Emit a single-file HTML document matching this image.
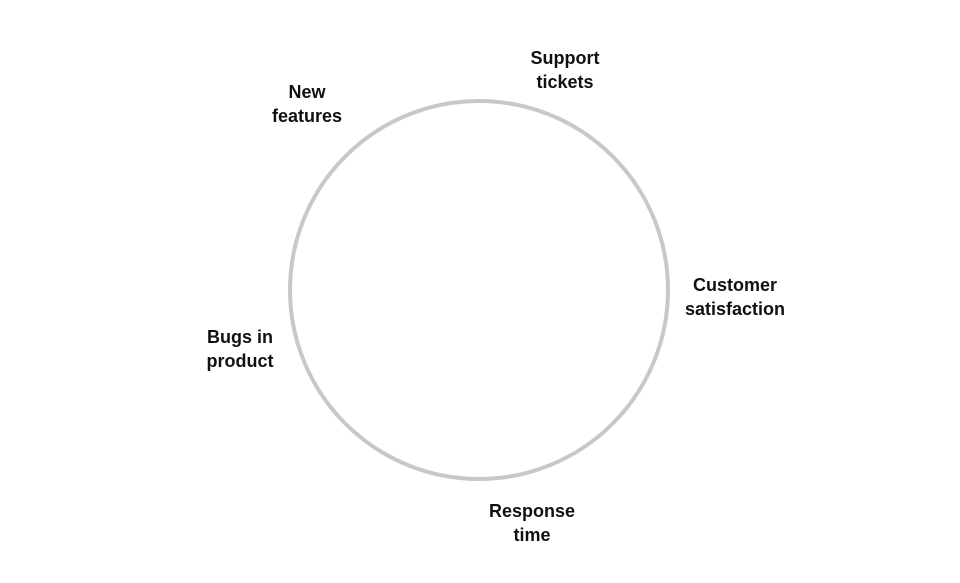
<!DOCTYPE html>
<html><head><style>
html,body{margin:0;padding:0;background:#fff;}
body{width:960px;height:583px;position:relative;overflow:hidden;font-family:"Liberation Sans",sans-serif;}
.l{position:absolute;font-weight:bold;font-size:18px;line-height:24px;color:#111;text-align:center;width:160px;}
</style></head><body>
<svg width="960" height="583" style="position:absolute;left:0;top:0">
<circle cx="479" cy="290" r="189" fill="none" stroke="#c8c8c8" stroke-width="4"/>
</svg>
<div class="l" style="left:485px;top:46px">Support<br>tickets</div>
<div class="l" style="left:227px;top:80px">New<br>features</div>
<div class="l" style="left:655px;top:273px">Customer<br>satisfaction</div>
<div class="l" style="left:160px;top:325px">Bugs in<br>product</div>
<div class="l" style="left:452px;top:499px">Response<br>time</div>
</body></html>
